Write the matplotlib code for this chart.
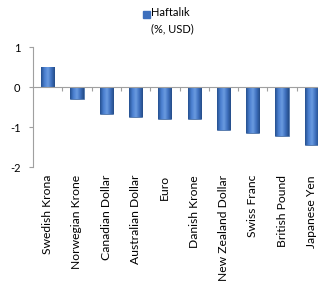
import matplotlib
matplotlib.use("Agg")
import matplotlib.pyplot as plt
import matplotlib.transforms as mtransforms
from matplotlib.colors import LinearSegmentedColormap
import numpy as np

plt.rcParams['font.family'] = ['Lato', 'DejaVu Sans']

categories = ["Swedish Krona", "Norwegian Krone", "Canadian Dollar", "Australian Dollar",
              "Euro", "Danish Krone", "New Zealand Dollar", "Swiss Franc",
              "British Pound", "Japanese Yen"]
values = [0.49, -0.30, -0.67, -0.75, -0.80, -0.80, -1.07, -1.15, -1.23, -1.46]
yticks = [1, 0, -1, -2]
legend_label = "Haftalık"
legend_sub = "(%, USD)"

fig = plt.figure(figsize=(3.18, 2.84), dpi=100)
ax = fig.add_axes([33/318, (284-167)/284, 293/318, 120/284])

x = np.arange(len(categories))
bw = 0.45
bars = ax.bar(x, values, width=bw, color="#3D6FBD", edgecolor="#2B558F", linewidth=0.4, zorder=3)

cmap = LinearSegmentedColormap.from_list("g", ["#25508F", "#4A7FD0", "#6A9BE0", "#3E70BE", "#244C88"])
grad = np.linspace(0, 1, 64).reshape(1, -1)
for b in bars:
    x0 = b.get_x()
    y0 = min(0, b.get_height())
    y1 = max(0, b.get_height())
    im = ax.imshow(grad, cmap=cmap, extent=(x0, x0 + bw, y0, y1), aspect="auto", zorder=3.5)
    im.set_clip_path(b)

ax.set_xlim(-0.5, len(categories) - 0.5)
ax.set_ylim(-2, 1)
ax.set_yticks(yticks)
ax.set_yticklabels([str(t) for t in yticks], fontsize=8)

for s in ["top", "right"]:
    ax.spines[s].set_visible(False)
ax.spines["left"].set_color("#A0A0A0")
ax.spines["left"].set_linewidth(0.8)
ax.spines["bottom"].set_position(("data", 0))
ax.spines["bottom"].set_color("#A0A0A0")
ax.spines["bottom"].set_linewidth(0.8)
ax.spines["bottom"].set_zorder(4)
ax.tick_params(axis="y", length=3, color="#A0A0A0", width=0.8, pad=6)
ax.set_xticks(np.arange(len(categories)) + 0.5)
ax.set_xticklabels([])
ax.tick_params(axis="x", length=3, color="#A0A0A0", width=0.8, direction="out")

trans = mtransforms.blended_transform_factory(ax.transData, fig.transFigure)
for xi, c in zip(x, categories):
    ax.text(xi, (284-175)/284, c, rotation=90, ha="center", va="top",
            fontsize=8.7, transform=trans, clip_on=False)

fig.patches.append(plt.Rectangle((143/318, (284-18)/284), 7/318, 7/284,
                                 transform=fig.transFigure, color="#3D6FBD"))
fig.text(151/318, (284-13)/284, legend_label, fontsize=8, va="center", ha="left")
fig.text(172/318, (284-29)/284, legend_sub, fontsize=8, va="center", ha="center")

fig.savefig("out.png", dpi=100)
